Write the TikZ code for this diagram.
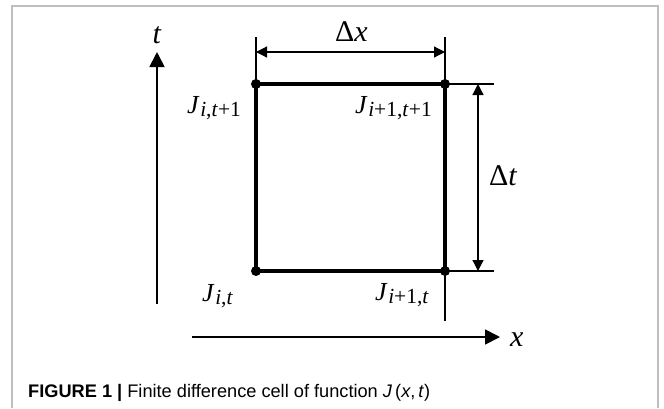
\documentclass[tikz,border=0pt]{standalone}
\usepackage{fontspec}
\setmainfont{Liberation Serif}
\newfontfamily\capfont{Liberation Sans}
\usepackage{xcolor}
\definecolor{frame}{RGB}{190,190,190}
\usetikzlibrary{arrows.meta}

\newcommand{\Jsub}[1]{{\fontsize{26}{30}\selectfont\textit{J}}\kern0.5pt\raisebox{-3pt}{\fontsize{21.5}{24}\selectfont #1}}

\tikzset{
  cell/.style={line width=3.6pt},
  axis/.style={line width=1.8pt,-{Triangle[length=15pt,width=15pt]}},
  dimline/.style={line width=1.2pt,{Triangle[length=11pt,width=11pt]}-{Triangle[length=11pt,width=11pt]}},
  extline/.style={line width=1.4pt},
  gridpt/.style={circle,fill=black,inner sep=0pt,minimum size=10pt},
  lbl/.style={font=\fontsize{30}{34}\selectfont,inner sep=0pt}
}

\begin{document}
\begin{tikzpicture}[x=1pt,y=-1pt]
  \useasboundingbox (0,0) rectangle (664,408);
  \draw[frame,line width=1.2pt] (12,408) -- (12,6) -- (658,6) -- (658,408);
  % grid points of the cell
  \node[gridpt] (Jtl) at (256,84) {};
  \node[gridpt] (Jtr) at (445,84) {};
  \node[gridpt] (Jbl) at (256,271) {};
  \node[gridpt] (Jbr) at (445,271) {};
  \draw[cell] (Jtl.center) -- (Jtr.center) -- (Jbr.center) -- (Jbl.center) -- cycle;
  % extension lines
  \coordinate (xl) at (256,37);
  \coordinate (xr) at (445,37);
  \coordinate (xd) at (445,321);
  \coordinate (tt) at (494,84);
  \coordinate (tb) at (494,271);
  \draw[extline] (Jtl.center) -- (xl);
  \draw[extline] (xr) -- (xd);
  \draw[extline] (Jtr.center) -- (tt);
  \draw[extline] (Jbr.center) -- (tb);
  % dimensions
  \coordinate (dxl) at (256,52);
  \coordinate (dxr) at (445,52);
  \coordinate (dtt) at (478,84);
  \coordinate (dtb) at (478,271);
  \draw[dimline] (dxl) -- (dxr);
  \draw[dimline] (dtt) -- (dtb);
  \node[lbl,anchor=base west] (dx) at (335,41) {Δ\textit{x}};
  \node[lbl,anchor=base west] (dt) at (489,185) {Δ\textit{t}};
  % axes
  \coordinate (t0) at (157,304);
  \coordinate (t1) at (157,52);
  \coordinate (x0) at (192,337);
  \coordinate (x1) at (500,337);
  \draw[axis] (t0) -- (t1);
  \draw[axis] (x0) -- (x1);
  \node[lbl,anchor=base] (tlab) at (157,43) {\textit{t}};
  \node[lbl,anchor=base west] (xlab) at (510,346) {\textit{x}};
  % point labels
  \node[lbl,anchor=base west] (ltl) at (187,113) {\Jsub{\textit{i},\textit{t}+1}};
  \node[lbl,anchor=base west] (ltr) at (355,113) {\Jsub{\textit{i}+1,\textit{t}+1}};
  \node[lbl,anchor=base west] (lbl) at (202,301) {\Jsub{\textit{i},\textit{t}}};
  \node[lbl,anchor=base west] (lbr) at (375,300) {\Jsub{\textit{i}+1,\textit{t}}};
  % caption
  \node[anchor=base west,inner sep=0pt,font=\capfont\fontsize{18.2}{22}\selectfont] (cap) at (28,397)
    {\textbf{FIGURE 1 |} Finite difference cell of function \textit{J}\,(\textit{x},\,\textit{t})};
\end{tikzpicture}
\end{document}
